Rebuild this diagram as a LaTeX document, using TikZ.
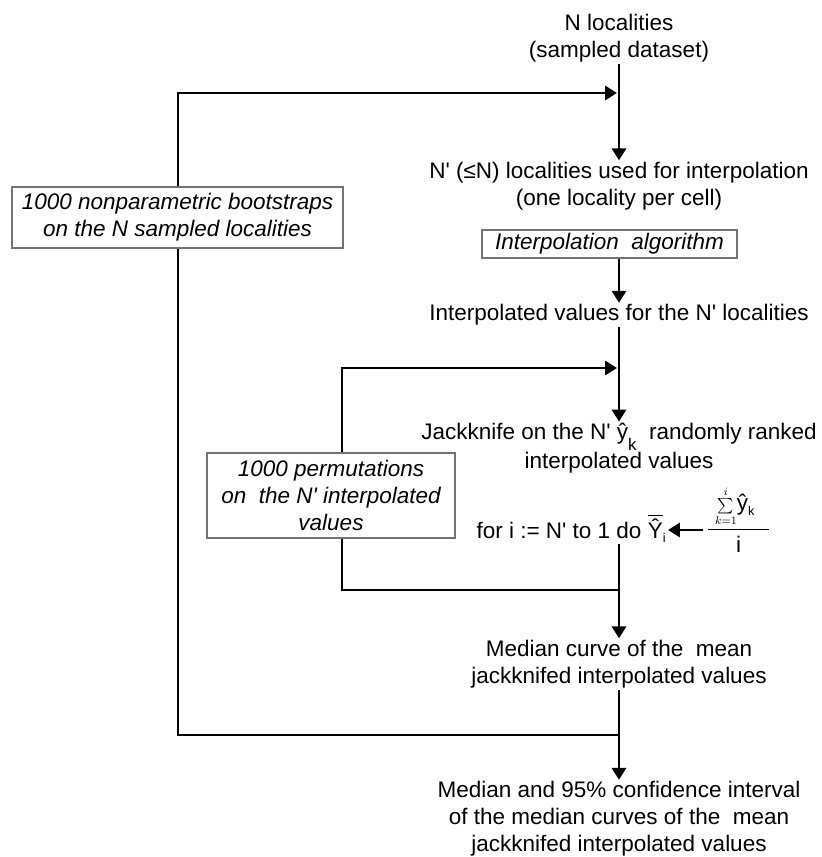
\documentclass[tikz,border=0pt]{standalone}
\usepackage{fontspec}
\usepackage{amsmath}
\newfontfamily\arialfont{Liberation Sans}
\usetikzlibrary{positioning, arrows.meta}

\begin{document}
\begin{tikzpicture}[
        x=0.025cm, y=-0.025cm,
        stagetext/.style={align=center, font=\arialfont\fontsize{16}{19.2}\selectfont, inner sep=1pt},
        loopbox/.style={rectangle, draw=black!55, line width=0.8pt, fill=white, align=center, font=\arialfont\itshape\fontsize{16}{19.2}\selectfont, inner sep=0pt},
        arrow/.style={draw, line width=2.1pt, -{Triangle[width=10pt, length=8.5pt]}},
        link/.style={draw, line width=2.1pt}
    ]
    \useasboundingbox (0,0) rectangle (822,857);

    % Nodes
    \node (nloc) [stagetext] at (619,38) {N localities\\(sampled dataset)};
    \node (nprime) [stagetext] at (619,186) {N' (≤N) localities used for interpolation\\(one locality per cell)};
    \node (interpvals) [stagetext] at (619,315) {Interpolated values for the N' localities};
    \node (jack) [stagetext] at (619,448) {Jackknife on the N' ŷ\raisebox{-0.9ex}{\fontsize{12}{12}\selectfont k}\ \ randomly ranked\\interpolated values};
    \node (forloop) [stagetext, anchor=east] at (668,528) {for i := N' to 1 do $\overline{\mbox{Ŷ}}_{\mbox{\small i}}$};
    \node (mean) [stagetext, anchor=base west] at (705,535.5) {$\genfrac{}{}{0.7pt}{0}{\;\scriptstyle\sum\limits_{\scriptscriptstyle k=1}^{\scriptscriptstyle i}\textstyle\!\mbox{ŷ}_{\mbox{\small k}}\;\;}{\mbox{i}}$};
    \node (median) [stagetext] at (619,664) {Median curve of the\ \ mean\\jackknifed interpolated values};
    \node (final) [stagetext] at (619,819) {Median and 95\% confidence interval\\of the median curves of the\ \ mean\\jackknifed interpolated values};

    % Loop corners
    \coordinate (bootcorner) at (178,93);
    \coordinate (bootjoin) at (619,735);
    \coordinate (bootin) at (617,93);
    \coordinate (permcorner) at (342,368);
    \coordinate (permjoin) at (619,590);
    \coordinate (permin) at (617,368);
    \coordinate (meanaxis) at (703,530);

    % Loops
    \draw [arrow] (bootjoin) -| (bootcorner) -- (bootin);
    \draw [arrow] (permjoin) -| (permcorner) -- (permin);

    % Boxes
    \node (boot) [loopbox, minimum width=8.275cm, minimum height=1.525cm] at (177.5,217.5) {1000 nonparametric bootstraps\\on the N sampled localities};
    \node (perm) [loopbox, minimum width=6.2cm, minimum height=2.125cm] at (331,495.5) {1000 permutations\\on\ \ the N' interpolated\\values};
    \node (interp) [loopbox, minimum width=6.375cm, minimum height=0.7cm] at (609.5,244) {Interpolation\ \ algorithm};

    % Arrows
    \draw [arrow] (nloc) -- (nprime);
    \draw [link] (nprime.south -| interp.north) -- (nprime.south -| interp.north |- interp.north);
    \draw [arrow] (interp.south -| interpvals.north) -- (interpvals);
    \draw [arrow] (interpvals) -- (jack);
    \draw [arrow] (meanaxis) -- (meanaxis -| forloop.east);
    \draw [arrow] (forloop.south -| median.north) -- (median);
    \draw [arrow] (median) -- (final);
\end{tikzpicture}
\end{document}
